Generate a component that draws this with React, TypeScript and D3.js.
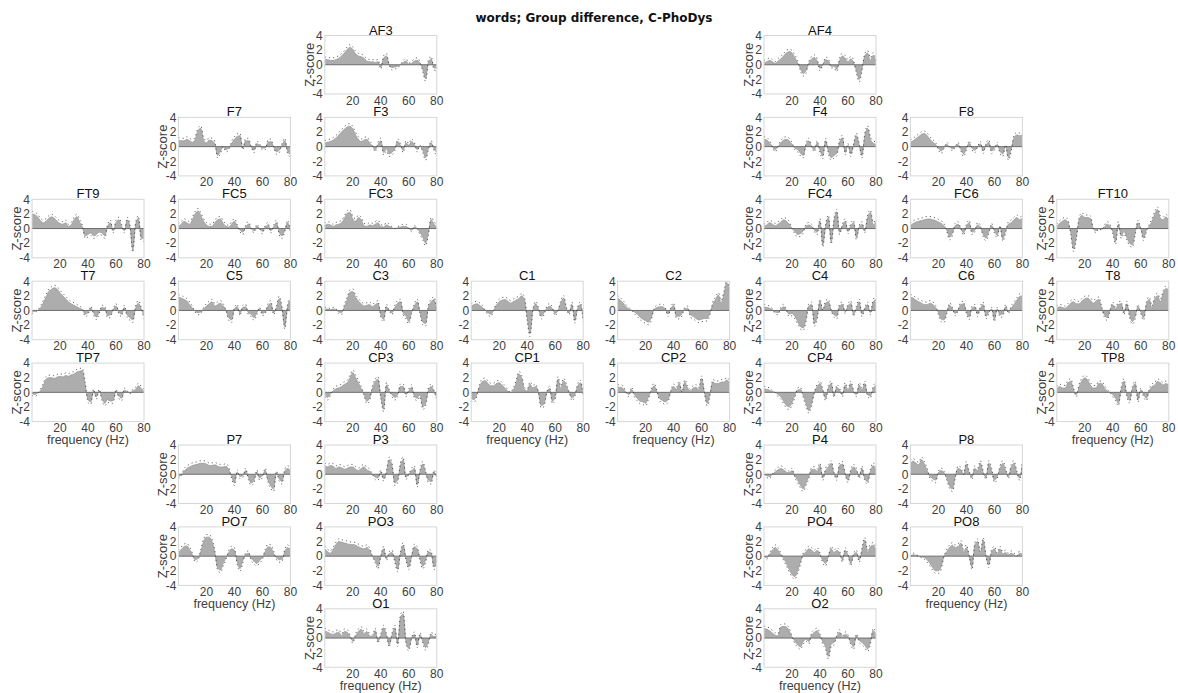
import React from "react";
import * as d3 from "d3";

// Frequency grid (Hz) shared by every channel
const FREQ = [0, 2, 4, 6, 8, 10, 12, 14, 16, 18, 20, 22, 24, 26, 28, 30, 32, 34, 36, 38, 40,
  42, 44, 46, 48, 50, 52, 54, 56, 58, 60, 62, 64, 66, 68, 70, 72, 74, 76, 78, 80];

const X_TICKS = [20, 40, 60, 80];
const Y_TICKS = [4, 2, 0, -2, -4];
const TITLE = "words; Group difference, C-PhoDys";

// Z-score of the group difference per channel
const Z_AF3 = [0.7, 0.7, 0.6, 0.6, 0.7, 0.9, 1.2, 1.6, 2.1, 2.4, 2.1, 1.5, 1.2, 1.1, 0.9, 0.5, 0.4, 0.4, 0.3, 0.4, -0.3, 0.9, 1.2, 0.0, -0.4, -0.3, -0.2, 0.0, 0.3, 0.5, 0.1, 0.2, 0.5, 0.6, 0.2, -0.6, -1.9, 0.3, 0.8, -0.4, -0.5];
const Z_AF4 = [0.3, 0.4, 0.6, 0.4, 0.2, 0.5, 0.8, 1.2, 1.6, 1.8, 1.6, 1.0, 0.3, -0.5, -1.2, -0.8, 0.2, 0.8, 1.0, 0.5, -0.5, 0.0, 0.7, 0.5, -0.2, -0.2, -0.6, 0.6, 1.2, 0.9, 0.4, 0.8, 0.3, -0.8, -2.0, -0.5, 1.2, 1.6, 0.6, 1.3, 0.3];
const Z_F7 = [0.9, 0.8, 0.8, 1.0, 0.8, 0.6, 1.0, 2.2, 2.5, 0.9, 0.5, 0.9, 0.8, 0.4, -1.2, -0.6, 0.0, -0.4, -0.2, 0.4, 1.0, 1.4, 1.5, -0.2, 0.8, 0.8, 0.0, -0.5, 0.4, 0.2, -0.2, -0.2, 0.6, 0.7, 0.0, -0.7, -0.5, 0.2, 0.8, -0.6, -1.1];
const Z_F3 = [0.5, 0.6, 0.7, 0.9, 1.2, 1.6, 2.0, 2.4, 2.7, 2.8, 2.4, 1.6, 1.0, 0.7, 0.9, 1.0, 0.5, 0.1, -0.4, 0.3, 0.8, -0.8, -0.3, -1.0, -0.8, -0.3, 0.7, 0.2, -0.5, 0.5, 0.2, 0.7, 0.3, -0.4, 0.1, -0.5, -1.5, -0.2, 0.5, -0.3, -0.8];
const Z_F4 = [1.0, 0.9, 0.5, 0.0, -0.4, 0.0, 0.5, 0.9, 1.0, 0.8, 0.3, -0.2, -0.4, -0.9, -1.2, 0.2, 0.8, 0.0, -0.4, 0.5, -0.5, -1.3, 0.8, -0.6, -1.5, -1.2, -0.9, 0.6, 1.2, -0.8, 0.2, -1.0, 0.2, 1.5, 0.2, -1.2, 1.5, 2.5, 1.0, 0.5, 0.3];
const Z_F8 = [0.6, 0.8, 1.1, 1.4, 1.7, 1.8, 1.5, 1.0, 0.6, 0.3, -0.2, -0.6, -0.1, 0.3, 0.0, -0.3, 0.0, 0.3, -0.3, -1.0, -0.2, 0.5, -0.2, -0.5, 0.0, 0.4, -0.6, 0.2, 0.6, -0.6, -0.2, 0.3, -0.6, -1.0, 0.1, -1.5, -0.3, 1.2, 1.6, 1.5, 1.6];
const Z_FT9 = [2.0, 1.9, 1.6, 1.1, 0.8, 1.0, 1.4, 1.6, 1.4, 1.0, 0.7, 0.6, 0.8, 0.3, 0.5, 1.2, 1.6, 0.9, 0.2, -1.0, -0.8, -0.6, -1.0, -0.8, -0.5, -0.6, -1.0, 0.3, 0.8, -0.3, 0.8, 1.2, 0.3, -0.3, 1.2, 0.2, -2.9, 0.5, 1.4, -1.3, -1.4];
const Z_FC5 = [0.3, 0.6, 1.0, 0.8, 0.6, 1.2, 2.0, 2.4, 1.8, 1.0, 0.5, 0.3, 0.3, 0.8, 1.2, 1.3, 0.7, 0.3, 0.2, 0.6, 1.0, 0.3, -0.2, -0.5, 0.2, 0.6, 0.0, -0.3, 0.3, 0.0, -0.4, 0.2, 0.5, -0.3, 0.2, 0.8, -0.5, -1.0, -0.2, 0.8, -0.3];
const Z_FC3 = [0.4, 0.6, 0.5, 0.3, 0.5, 0.6, 0.8, 1.4, 2.1, 2.2, 1.3, 1.0, 1.5, 1.2, 0.4, 0.3, 0.5, 0.4, 0.6, 0.8, 0.3, 0.2, 0.5, 0.3, 0.1, 0.0, 0.1, 0.2, 0.3, 0.3, 0.0, -0.2, 0.2, 0.0, -0.5, -1.2, -2.0, -0.5, 1.2, 0.6, 0.2];
const Z_FC4 = [0.3, 0.5, 0.8, 0.6, 0.4, 0.6, 0.9, 1.2, 1.0, 0.6, 0.0, -0.4, -0.8, -0.7, -0.3, 0.3, 0.5, 0.3, -0.2, -0.5, 1.0, -2.2, 0.3, 1.5, -1.8, 1.0, 2.3, -0.5, 0.3, 1.0, -0.4, 0.4, 0.8, -1.2, 0.2, 0.6, -0.3, 1.5, 2.2, 0.5, 1.0];
const Z_FC6 = [0.4, 0.7, 0.9, 1.0, 1.1, 1.2, 1.3, 1.3, 1.2, 1.1, 0.9, 0.7, 0.4, -0.2, -1.2, -0.6, 0.4, 0.6, 0.0, -0.6, 0.3, 0.8, -0.5, -0.2, 0.5, 0.2, -0.8, -1.3, -0.4, 0.4, -0.3, -0.9, 0.2, -1.4, -0.3, 0.6, 0.8, 1.2, 1.5, 1.2, 1.4];
const Z_FT10 = [0.3, 0.7, 1.0, 1.2, 0.8, -0.5, -2.8, -1.0, 1.2, 1.8, 1.5, 1.5, 1.4, 0.0, -0.3, 0.0, -0.1, 0.2, 0.6, 0.3, -0.4, -1.8, 0.6, -1.0, -0.4, -1.2, -2.0, -2.2, -0.5, 0.8, 0.0, -1.3, -0.2, 0.3, 1.0, 2.0, 2.6, 1.4, 1.2, 1.6, 0.8];
const Z_T7 = [-0.2, -0.1, 0.0, 0.3, 1.0, 1.8, 2.6, 2.9, 3.1, 2.9, 2.4, 2.0, 1.6, 1.2, 0.9, 0.7, 0.5, 0.3, 0.1, -0.5, -0.3, 0.3, -0.3, -0.9, -0.2, 0.4, 0.3, -0.7, -0.6, 0.1, 0.6, -0.2, -0.5, 0.4, -0.6, -1.0, -1.3, 0.3, 1.0, 0.2, -0.8];
const Z_C5 = [1.8, 1.7, 1.5, 1.3, 0.8, 0.3, -0.1, -0.3, -0.2, 0.2, 0.6, 0.9, 1.2, 0.6, 0.8, 1.0, 0.6, 0.0, -1.0, -1.3, 0.2, 0.5, -0.4, 0.4, 0.5, -0.3, -0.5, -1.0, -0.3, 0.2, -0.4, -0.2, 0.6, 1.0, -0.3, 0.3, 1.6, 0.2, -2.2, 0.5, 1.4];
const Z_C3 = [0.2, 0.2, 0.1, 0.2, 0.1, -0.2, -0.3, 0.5, 1.5, 2.5, 2.6, 1.8, 1.3, 0.9, 0.6, 0.7, 0.8, 0.5, 0.8, 1.0, -0.6, -1.2, 0.5, 0.0, -0.3, 0.4, 1.0, 1.2, -0.3, -0.8, -1.5, -0.2, 0.6, 1.2, -0.2, -1.6, -1.8, 0.4, 1.2, 1.5, 0.0];
const Z_C1 = [0.6, 0.8, 0.9, 0.7, 0.4, 0.0, -0.3, -0.5, 0.0, 0.7, 1.2, 1.4, 1.5, 1.3, 1.0, 1.2, 1.4, 1.6, 2.0, 1.5, -1.0, -3.2, 0.0, 0.9, 0.2, -0.8, -0.3, 0.3, 0.6, 0.2, -0.4, 0.0, 1.0, 1.7, 0.2, -0.3, 0.8, -1.4, 0.2, 0.8, -1.2];
const Z_C2 = [1.7, 1.4, 1.0, 0.5, 0.2, 0.0, -0.2, -0.5, -0.9, -1.2, -1.4, -1.6, -1.0, 0.1, 0.4, 0.5, 0.5, 0.2, -0.5, 0.2, 0.7, -0.8, -0.8, -0.4, 0.2, 0.3, -0.6, -0.8, -1.1, -1.3, -1.2, -1.1, -1.1, -0.3, 0.8, 1.5, 2.1, 1.0, 2.3, 3.8, 2.5];
const Z_C4 = [0.5, 0.4, 0.3, 0.1, -0.2, -0.3, 0.2, 0.5, 0.0, -0.5, -0.4, -0.8, -1.5, -2.2, -2.4, -1.2, 0.6, 0.8, -1.8, -0.8, 1.2, 0.0, 1.0, 1.2, 0.0, -0.6, -0.8, 0.6, 0.8, -0.2, 0.6, 1.0, -0.5, 0.3, 1.2, -0.5, 0.2, 0.8, -0.3, 1.2, 1.5];
const Z_C6 = [1.8, 1.7, 1.4, 1.2, 1.0, 0.8, 0.8, 1.0, 0.8, 0.4, -0.3, -1.2, -1.3, -0.2, 0.7, 0.2, -0.4, 0.0, 0.8, 0.9, -0.2, -0.9, 0.3, 0.5, -0.5, 0.3, 0.8, -0.8, -0.2, 0.2, -1.2, 0.2, -0.6, -0.5, 0.5, -0.2, 0.3, 0.8, 1.4, 1.9, 2.0];
const Z_T8 = [0.3, 0.5, 0.4, 0.3, 0.6, 1.0, 1.2, 0.9, 0.9, 1.3, 1.6, 1.7, 1.4, 1.0, 1.3, 1.5, 0.3, -0.6, -1.0, 0.0, 0.8, 0.2, 0.8, 0.9, -0.3, 0.9, -0.6, -1.5, -0.8, 0.5, -0.2, -1.0, 0.8, 1.5, 0.3, 1.6, 2.0, 1.2, 2.4, 3.0, 2.8];
const Z_TP7 = [-0.2, -0.3, -0.1, 0.2, 0.9, 1.8, 2.0, 2.0, 1.9, 2.1, 2.2, 2.1, 2.3, 2.2, 2.4, 2.5, 2.8, 2.9, 3.0, 1.0, -1.0, -1.3, 0.2, -0.6, 0.2, -0.8, -1.5, -1.0, -1.2, -1.1, 0.2, -0.5, -0.8, 0.3, 0.1, -0.1, 0.2, 0.4, 0.9, 0.5, 0.2];
const Z_CP3 = [-0.3, -0.7, -0.2, 0.2, 0.5, 0.6, 0.8, 1.1, 1.3, 2.0, 2.7, 2.0, 1.3, 0.5, -0.2, -1.2, -0.8, 0.5, 1.5, 1.8, -0.5, -2.3, 1.0, 0.2, -0.3, -0.7, -0.3, 0.8, 0.8, -0.3, 0.2, 0.7, -0.5, -0.8, -0.3, -2.0, -1.5, 0.3, 0.8, 0.1, -0.7];
const Z_CP1 = [-0.8, -1.0, -0.3, 0.8, 1.5, 1.6, 1.2, 0.9, 0.9, 1.2, 1.3, 1.0, 0.6, 0.2, 0.0, 0.3, 1.2, 2.5, 2.0, 0.4, 0.2, 1.1, 0.6, 0.8, 0.0, -1.8, -1.6, 0.0, 0.5, -1.2, -0.6, 1.8, 0.5, 1.6, 0.8, 0.0, -0.8, -0.3, 0.8, 1.3, -0.3];
const Z_CP2 = [0.7, 0.7, 0.5, 0.0, -0.3, 0.4, -0.3, -0.8, -1.2, -1.3, -1.5, -0.6, 0.2, 0.9, 0.1, -0.8, -1.1, -1.3, -1.0, 0.1, 0.8, 0.4, 1.2, 0.0, 1.4, 0.6, 0.2, 0.6, 0.7, 0.3, 1.9, 0.0, -1.5, -0.2, 1.4, 1.2, 1.2, 1.4, 1.4, 1.7, 1.2];
const Z_CP4 = [0.5, 0.4, 0.3, 0.1, 0.0, -0.3, -0.6, -1.2, -1.8, -2.0, -1.4, -0.4, 0.3, 0.4, -0.4, -1.5, -2.5, -1.5, 0.0, 0.8, 1.2, 0.2, -0.8, 0.6, 1.2, -0.4, 0.7, 0.3, -0.3, 1.0, 0.2, 1.2, 0.1, -0.3, 1.0, 0.3, 1.2, -0.3, -0.5, 0.5, 1.0];
const Z_TP8 = [0.5, 0.8, 0.6, 0.6, 1.3, 1.5, 0.3, -0.3, 0.8, 1.6, 2.0, 1.7, 1.0, 0.6, 0.6, 1.2, 1.2, 0.6, 0.2, 0.0, -0.3, -0.8, -1.5, 0.4, 1.5, -0.3, -1.1, 0.5, 1.2, -1.0, 0.3, -0.3, -0.8, 0.2, 0.8, 1.0, 1.5, 1.3, 1.0, 1.2, 1.0];
const Z_P7 = [-0.3, -0.1, 0.4, 0.8, 1.0, 1.2, 1.3, 1.4, 1.5, 1.5, 1.4, 1.2, 1.2, 1.3, 1.1, 1.0, 1.0, 1.1, 0.6, -0.3, -1.2, 0.3, -0.3, -0.2, 0.5, -0.4, -1.2, -0.8, 0.3, -0.5, -0.2, 0.5, -0.8, -1.6, -2.0, 0.2, -0.6, -1.0, 0.4, 0.8, 0.5];
const Z_P3 = [1.2, 1.0, 1.2, 1.1, 0.8, 1.0, 0.9, 0.7, 0.8, 1.0, 1.0, 0.7, 0.5, 0.8, 1.0, 0.6, 0.4, 0.0, -0.4, -0.5, 0.3, -0.6, 0.2, 2.0, 1.2, -1.2, -0.8, 1.2, 2.0, -0.4, 0.0, 0.5, 0.8, -1.4, 0.3, 1.4, 0.2, -0.8, -1.0, 0.3, -0.4];
const Z_P4 = [0.0, -0.2, -0.3, 0.0, 0.3, 0.6, 0.8, 0.6, 0.3, 0.2, 0.5, -0.2, -0.8, -1.5, -2.0, -1.2, -0.3, 0.6, 0.7, 0.4, 1.2, -0.5, 0.5, 1.0, 1.5, 0.1, -0.5, 1.2, 1.4, 0.0, -0.8, 0.4, 1.0, 0.5, -0.3, 0.8, -0.6, -1.0, 0.4, 1.2, 0.6];
const Z_P8 = [1.5, 1.8, 1.5, 1.3, 2.0, 1.4, 0.5, -0.3, -0.6, -0.8, 0.2, 0.5, 0.2, -0.5, -1.6, -2.0, -0.3, 0.8, 0.6, 0.0, 1.4, 0.2, -0.4, 0.8, 0.5, 1.5, 0.2, -0.4, 1.5, 0.5, -0.8, -0.3, 0.8, 1.5, 0.5, -0.3, 1.0, 1.5, 0.2, -0.5, 1.5];
const Z_PO7 = [0.5, 0.9, 1.3, 1.4, 0.9, 0.2, -0.5, -0.3, 0.6, 2.0, 2.6, 2.6, 2.0, 0.5, -1.6, -1.9, -1.0, -0.2, 0.5, 1.0, 0.8, -0.8, -1.7, -0.6, 0.2, 0.4, -0.3, -0.7, -1.0, -0.6, -0.2, 0.6, 1.3, 1.2, 0.4, -0.2, -0.5, -0.4, 0.6, 1.2, 0.5];
const Z_PO3 = [1.0, 0.6, 0.4, 0.9, 1.6, 2.0, 1.9, 1.8, 1.7, 1.6, 1.6, 1.5, 1.3, 1.1, 1.0, 1.2, 0.8, 0.0, -0.6, -1.4, 0.0, 1.0, -0.3, 0.3, 0.5, -0.5, -1.8, 0.3, 1.5, -0.3, -1.5, 0.0, 1.3, 1.0, -0.3, -1.4, -0.5, 0.6, 0.4, -1.5, -0.5];
const Z_PO4 = [0.0, -0.2, 0.2, 0.8, 1.2, 0.8, 0.2, -0.3, -1.0, -1.8, -2.5, -2.8, -2.0, -0.8, 0.2, 0.6, 1.0, 0.8, 0.5, 0.8, 0.2, -0.6, -1.0, 0.0, 1.0, 0.5, 0.8, 0.4, -0.5, 0.8, 0.1, -1.0, 0.2, 0.5, -0.5, 0.8, 2.2, 0.5, 1.3, 1.5, 0.8];
const Z_PO8 = [0.0, 0.2, 0.1, 0.0, -0.1, -0.2, -0.5, -1.0, -1.6, -2.0, -2.0, -1.4, 0.0, 0.6, 1.2, 1.5, 1.2, 1.3, 1.8, 0.6, 1.2, 0.0, -1.5, 1.5, 2.0, 0.3, 2.2, 0.0, -1.2, 0.6, 1.0, 0.2, 1.0, 0.3, 0.5, 0.2, 0.4, 0.2, 0.0, 0.4, 0.3];
const Z_O1 = [1.0, 0.8, 0.6, 0.5, 0.7, 0.8, 0.3, 0.9, 0.8, 0.2, -0.4, 0.3, 0.9, 1.2, 0.6, 0.9, 0.3, 0.2, 1.0, -0.4, 0.3, 1.4, 0.4, -0.9, 0.4, 1.4, -0.8, 2.8, 3.3, -0.4, -1.4, 0.0, 0.5, -1.0, 0.4, -0.4, -1.3, -0.5, 0.5, 0.2, 0.3];
const Z_O2 = [1.3, 1.2, 1.0, 0.7, 0.4, 0.3, 1.5, 1.6, 1.5, 1.0, 0.1, -0.4, -0.9, -1.2, -0.5, -0.2, -0.5, 0.4, 0.8, 1.0, 0.3, -0.5, -1.2, -2.5, -0.8, -0.6, 0.2, 0.8, 0.1, 0.5, 0.2, -0.6, -1.2, 0.3, -0.3, -0.6, -1.0, -1.5, -0.5, 1.0, 0.5];

// Scalp layout: grid row / column of each channel, and which axes carry labels
type Panel = { name: string; row: number; col: number; z: number[]; yLab?: boolean; xLab?: boolean };
const PANELS: Panel[] = [
  { name: "AF3", row: 0, col: 2, z: Z_AF3, yLab: true },
  { name: "AF4", row: 0, col: 5, z: Z_AF4, yLab: true },
  { name: "F7", row: 1, col: 1, z: Z_F7, yLab: true },
  { name: "F3", row: 1, col: 2, z: Z_F3 },
  { name: "F4", row: 1, col: 5, z: Z_F4, yLab: true },
  { name: "F8", row: 1, col: 6, z: Z_F8 },
  { name: "FT9", row: 2, col: 0, z: Z_FT9, yLab: true },
  { name: "FC5", row: 2, col: 1, z: Z_FC5 },
  { name: "FC3", row: 2, col: 2, z: Z_FC3 },
  { name: "FC4", row: 2, col: 5, z: Z_FC4, yLab: true },
  { name: "FC6", row: 2, col: 6, z: Z_FC6 },
  { name: "FT10", row: 2, col: 7, z: Z_FT10, yLab: true },
  { name: "T7", row: 3, col: 0, z: Z_T7, yLab: true },
  { name: "C5", row: 3, col: 1, z: Z_C5 },
  { name: "C3", row: 3, col: 2, z: Z_C3 },
  { name: "C1", row: 3, col: 3, z: Z_C1 },
  { name: "C2", row: 3, col: 4, z: Z_C2 },
  { name: "C4", row: 3, col: 5, z: Z_C4, yLab: true },
  { name: "C6", row: 3, col: 6, z: Z_C6 },
  { name: "T8", row: 3, col: 7, z: Z_T8, yLab: true },
  { name: "TP7", row: 4, col: 0, z: Z_TP7, yLab: true, xLab: true },
  { name: "CP3", row: 4, col: 2, z: Z_CP3 },
  { name: "CP1", row: 4, col: 3, z: Z_CP1, xLab: true },
  { name: "CP2", row: 4, col: 4, z: Z_CP2, xLab: true },
  { name: "CP4", row: 4, col: 5, z: Z_CP4, yLab: true },
  { name: "TP8", row: 4, col: 7, z: Z_TP8, yLab: true, xLab: true },
  { name: "P7", row: 5, col: 1, z: Z_P7, yLab: true },
  { name: "P3", row: 5, col: 2, z: Z_P3 },
  { name: "P4", row: 5, col: 5, z: Z_P4, yLab: true },
  { name: "P8", row: 5, col: 6, z: Z_P8 },
  { name: "PO7", row: 6, col: 1, z: Z_PO7, yLab: true, xLab: true },
  { name: "PO3", row: 6, col: 2, z: Z_PO3 },
  { name: "PO4", row: 6, col: 5, z: Z_PO4, yLab: true },
  { name: "PO8", row: 6, col: 6, z: Z_PO8, xLab: true },
  { name: "O1", row: 7, col: 2, z: Z_O1, yLab: true, xLab: true },
  { name: "O2", row: 7, col: 5, z: Z_O2, yLab: true, xLab: true },
];

const WIDTH = 1178;
const HEIGHT = 693;
const COL_X0 = 32;
const COL_STEP = 146.4;
const ROW_Y0 = 35.5;
const ROW_STEP = 81.9;
const PW = 112;
const PH = 58.5;
const FONT = "'Liberation Sans', Arial, Helvetica, sans-serif";

function ChannelPlot({ p }: { p: Panel }) {
  const left = COL_X0 + p.col * COL_STEP;
  const top = ROW_Y0 + p.row * ROW_STEP;
  const x = d3.scaleLinear().domain([0, 80]).range([left, left + PW]);
  const y = d3.scaleLinear().domain([-4, 4]).range([top + PH, top]);
  const pts: [number, number][] = p.z.map((v, i) => [FREQ[i], v]);

  const area = d3
    .area<[number, number]>()
    .x((d) => x(d[0]))
    .y0(y(0))
    .y1((d) => y(d[1]))
    .curve(d3.curveMonotoneX);
  const edge = d3
    .line<[number, number]>()
    .x((d) => x(d[0]))
    .y((d) => y(d[1]))
    .curve(d3.curveMonotoneX);
  // dotted confidence bound just outside the filled curve
  const bound = d3
    .line<[number, number]>()
    .x((d) => x(d[0]))
    .y((d) => y(d[1] + 0.35 * Math.tanh(d[1] * 4)))
    .curve(d3.curveMonotoneX);

  const clipId = `clip-${p.name}`;
  return (
    <g>
      <defs>
        <clipPath id={clipId}>
          <rect x={left} y={top} width={PW} height={PH} />
        </clipPath>
      </defs>
      <rect x={left} y={top} width={PW} height={PH} fill="#fff" />
      <g clipPath={`url(#${clipId})`}>
        <path d={area(pts) || ""} fill="#adadad" />
        <path d={edge(pts) || ""} fill="none" stroke="#979797" strokeWidth={0.7} />
        <line x1={left} x2={left + PW} y1={y(0)} y2={y(0)} stroke="#6e6e6e" strokeWidth={1} />
        <path
          d={bound(pts) || ""}
          fill="none"
          stroke="#2a2a2a"
          strokeWidth={0.9}
          strokeDasharray="1.2,3"
          opacity={0.8}
        />
      </g>
      <rect x={left} y={top} width={PW} height={PH} fill="none" stroke="#d6d6d6" strokeWidth={1} />
      {Y_TICKS.map((t) => (
        <text
          key={`y${t}`}
          x={left - 2}
          y={y(t)}
          dy="0.36em"
          textAnchor="end"
          fontSize={12}
          fill="#404040"
          fontFamily={FONT}
        >
          {t}
        </text>
      ))}
      {X_TICKS.map((t) => (
        <text
          key={`x${t}`}
          x={x(t)}
          y={top + PH + 10.5}
          textAnchor="middle"
          fontSize={12}
          fill="#404040"
          fontFamily={FONT}
        >
          {t}
        </text>
      ))}
      <text
        x={left + PW / 2}
        y={top - 1}
        textAnchor="middle"
        fontSize={13}
        fill="#111"
        fontFamily={FONT}
      >
        {p.name}
      </text>
      {p.yLab && (
        <text
          transform={`translate(${left - 11},${top + PH / 2}) rotate(-90)`}
          textAnchor="middle"
          fontSize={13}
          fill="#404040"
          fontFamily={FONT}
        >
          Z-score
        </text>
      )}
      {p.xLab && (
        <text
          x={left + PW / 2}
          y={top + PH + 22.5}
          textAnchor="middle"
          fontSize={12.5}
          fill="#404040"
          fontFamily={FONT}
        >
          frequency (Hz)
        </text>
      )}
    </g>
  );
}

export default function App() {
  return (
    <svg
      width={WIDTH}
      height={HEIGHT}
      style={{ position: "absolute", left: 0, top: 0, background: "#fff" }}
    >
      <rect width={WIDTH} height={HEIGHT} fill="#fff" />
      <text
        x={594}
        y={22}
        textAnchor="middle"
        fontSize={12}
        fontWeight="bold"
        fill="#111"
        fontFamily="'DejaVu Sans', sans-serif"
      >
        {TITLE}
      </text>
      {PANELS.map((p) => (
        <ChannelPlot key={p.name} p={p} />
      ))}
    </svg>
  );
}
